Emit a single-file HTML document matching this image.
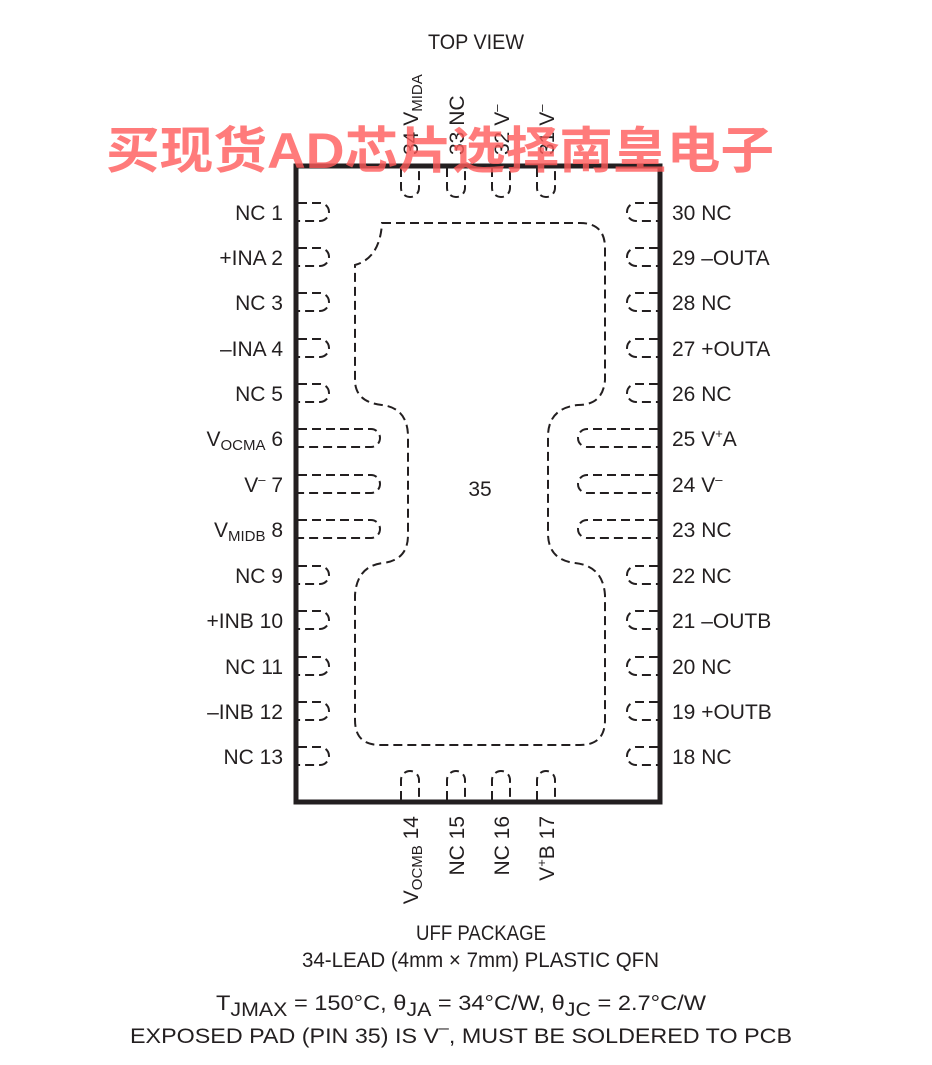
<!DOCTYPE html>
<html><head><meta charset="utf-8"><style>
html,body{margin:0;padding:0;background:#fff;}
svg{display:block;}
text{font-family:"Liberation Sans Narrow","Liberation Sans",sans-serif;fill:#231f20;font-size:21px;}
.wm{font-family:"Liberation Sans","Noto Sans CJK SC",sans-serif;font-weight:bold;fill:#ff5a5a;fill-opacity:0.8;font-size:50px;}
.d{fill:none;stroke:#231f20;stroke-width:2;stroke-dasharray:9,5;}
</style></head><body>
<svg width="932" height="1065" viewBox="0 0 932 1065" xmlns="http://www.w3.org/2000/svg">
<text x="476" y="49" text-anchor="middle" textLength="96" lengthAdjust="spacingAndGlyphs">TOP VIEW</text>

<rect x="296" y="166" width="364" height="636" fill="none" stroke="#231f20" stroke-width="5"/>

<g class="d">
<path d="M298 203 H320 A9 9 0 0 1 320 221 H298"/>
<path d="M298 248 H320 A9 9 0 0 1 320 266 H298"/>
<path d="M298 293 H320 A9 9 0 0 1 320 311 H298"/>
<path d="M298 339 H320 A9 9 0 0 1 320 357 H298"/>
<path d="M298 384 H320 A9 9 0 0 1 320 402 H298"/>
<path d="M298 429 H371 A9 9 0 0 1 371 447 H298"/>
<path d="M298 475 H371 A9 9 0 0 1 371 493 H298"/>
<path d="M298 520 H371 A9 9 0 0 1 371 538 H298"/>
<path d="M298 566 H320 A9 9 0 0 1 320 584 H298"/>
<path d="M298 611 H320 A9 9 0 0 1 320 629 H298"/>
<path d="M298 657 H320 A9 9 0 0 1 320 675 H298"/>
<path d="M298 702 H320 A9 9 0 0 1 320 720 H298"/>
<path d="M298 747 H320 A9 9 0 0 1 320 765 H298"/>
<path d="M658 203 H636 A9 9 0 0 0 636 221 H658"/>
<path d="M658 248 H636 A9 9 0 0 0 636 266 H658"/>
<path d="M658 293 H636 A9 9 0 0 0 636 311 H658"/>
<path d="M658 339 H636 A9 9 0 0 0 636 357 H658"/>
<path d="M658 384 H636 A9 9 0 0 0 636 402 H658"/>
<path d="M658 429 H587 A9 9 0 0 0 587 447 H658"/>
<path d="M658 475 H587 A9 9 0 0 0 587 493 H658"/>
<path d="M658 520 H587 A9 9 0 0 0 587 538 H658"/>
<path d="M658 566 H636 A9 9 0 0 0 636 584 H658"/>
<path d="M658 611 H636 A9 9 0 0 0 636 629 H658"/>
<path d="M658 657 H636 A9 9 0 0 0 636 675 H658"/>
<path d="M658 702 H636 A9 9 0 0 0 636 720 H658"/>
<path d="M658 747 H636 A9 9 0 0 0 636 765 H658"/>
<path d="M401 168 V188 A9 9 0 0 0 419 188 V168"/>
<path d="M447 168 V188 A9 9 0 0 0 465 188 V168"/>
<path d="M492 168 V188 A9 9 0 0 0 510 188 V168"/>
<path d="M537 168 V188 A9 9 0 0 0 555 188 V168"/>
<path d="M401 800 V780 A9 9 0 0 1 419 780 V800"/>
<path d="M447 800 V780 A9 9 0 0 1 465 780 V800"/>
<path d="M492 800 V780 A9 9 0 0 1 510 780 V800"/>
<path d="M537 800 V780 A9 9 0 0 1 555 780 V800"/>
<path d="M382 223 H580 Q605 223 605 248 V380 Q603 405 578 405 Q549 408 548 435 V535 Q549 560 575 563 Q603 566 605 595 V720 Q605 745 580 745 H380 Q355 745 355 720 V595 Q357 566 383 563 Q408 560 408 535 V435 Q407 408 382 405 Q355 402 355 380 V265 Q380 258 382 223 Z"/>
</g>

<text x="480" y="496" text-anchor="middle">35</text>

<g text-anchor="end">
<text x="283" y="220">NC 1</text>
<text x="283" y="265">+INA 2</text>
<text x="283" y="310">NC 3</text>
<text x="283" y="356">–INA 4</text>
<text x="283" y="401">NC 5</text>
<text x="283" y="446">V<tspan font-size="15" dy="4">OCMA</tspan><tspan dy="-4"> 6</tspan></text>
<text x="283" y="492">V<tspan font-size="13" dy="-8">–</tspan><tspan dy="8"> 7</tspan></text>
<text x="283" y="537">V<tspan font-size="15" dy="4">MIDB</tspan><tspan dy="-4"> 8</tspan></text>
<text x="283" y="583">NC 9</text>
<text x="283" y="628">+INB 10</text>
<text x="283" y="674">NC 11</text>
<text x="283" y="719">–INB 12</text>
<text x="283" y="764">NC 13</text>
</g>
<g>
<text x="672" y="220">30 NC</text>
<text x="672" y="265">29 –OUTA</text>
<text x="672" y="310">28 NC</text>
<text x="672" y="356">27 +OUTA</text>
<text x="672" y="401">26 NC</text>
<text x="672" y="446">25 V<tspan font-size="13" dy="-8">+</tspan><tspan dy="8">A</tspan></text>
<text x="672" y="492">24 V<tspan font-size="13" dy="-8">–</tspan></text>
<text x="672" y="537">23 NC</text>
<text x="672" y="583">22 NC</text>
<text x="672" y="628">21 –OUTB</text>
<text x="672" y="674">20 NC</text>
<text x="672" y="719">19 +OUTB</text>
<text x="672" y="764">18 NC</text>
</g>
<text transform="translate(418,155) rotate(-90)">34 V<tspan font-size="15" dy="4">MIDA</tspan></text>
<text transform="translate(464,155) rotate(-90)">33 NC</text>
<text transform="translate(509,155) rotate(-90)">32 V<tspan font-size="13" dy="-8">–</tspan></text>
<text transform="translate(554,155) rotate(-90)">31 V<tspan font-size="13" dy="-8">–</tspan></text>
<g text-anchor="end">
<text transform="translate(418,816) rotate(-90)">V<tspan font-size="15" dy="4">OCMB</tspan><tspan dy="-4"> 14</tspan></text>
<text transform="translate(464,816) rotate(-90)">NC 15</text>
<text transform="translate(509,816) rotate(-90)">NC 16</text>
<text transform="translate(554,816) rotate(-90)">V<tspan font-size="13" dy="-8">+</tspan><tspan dy="8">B 17</tspan></text>
</g>

<text x="416" y="940" textLength="130" lengthAdjust="spacingAndGlyphs">UFF PACKAGE</text>
<text x="302" y="967" textLength="357" lengthAdjust="spacingAndGlyphs">34-LEAD (4mm × 7mm) PLASTIC QFN</text>
<text x="216" y="1010" font-size="27" textLength="490" lengthAdjust="spacingAndGlyphs">T<tspan font-size="19" dy="6">JMAX</tspan><tspan dy="-6"> = 150°C, θ</tspan><tspan font-size="19" dy="6">JA</tspan><tspan dy="-6"> = 34°C/W, θ</tspan><tspan font-size="19" dy="6">JC</tspan><tspan dy="-6"> = 2.7°C/W</tspan></text>
<text x="130" y="1043" font-size="27" textLength="662" lengthAdjust="spacingAndGlyphs">EXPOSED PAD (PIN 35) IS V<tspan font-size="16" dy="-10">–</tspan><tspan dy="10">, MUST BE SOLDERED TO PCB</tspan></text>

<text class="wm" x="440" y="168" text-anchor="middle" textLength="668" lengthAdjust="spacingAndGlyphs">买现货AD芯片选择南皇电子</text>
</svg>
</body></html>
